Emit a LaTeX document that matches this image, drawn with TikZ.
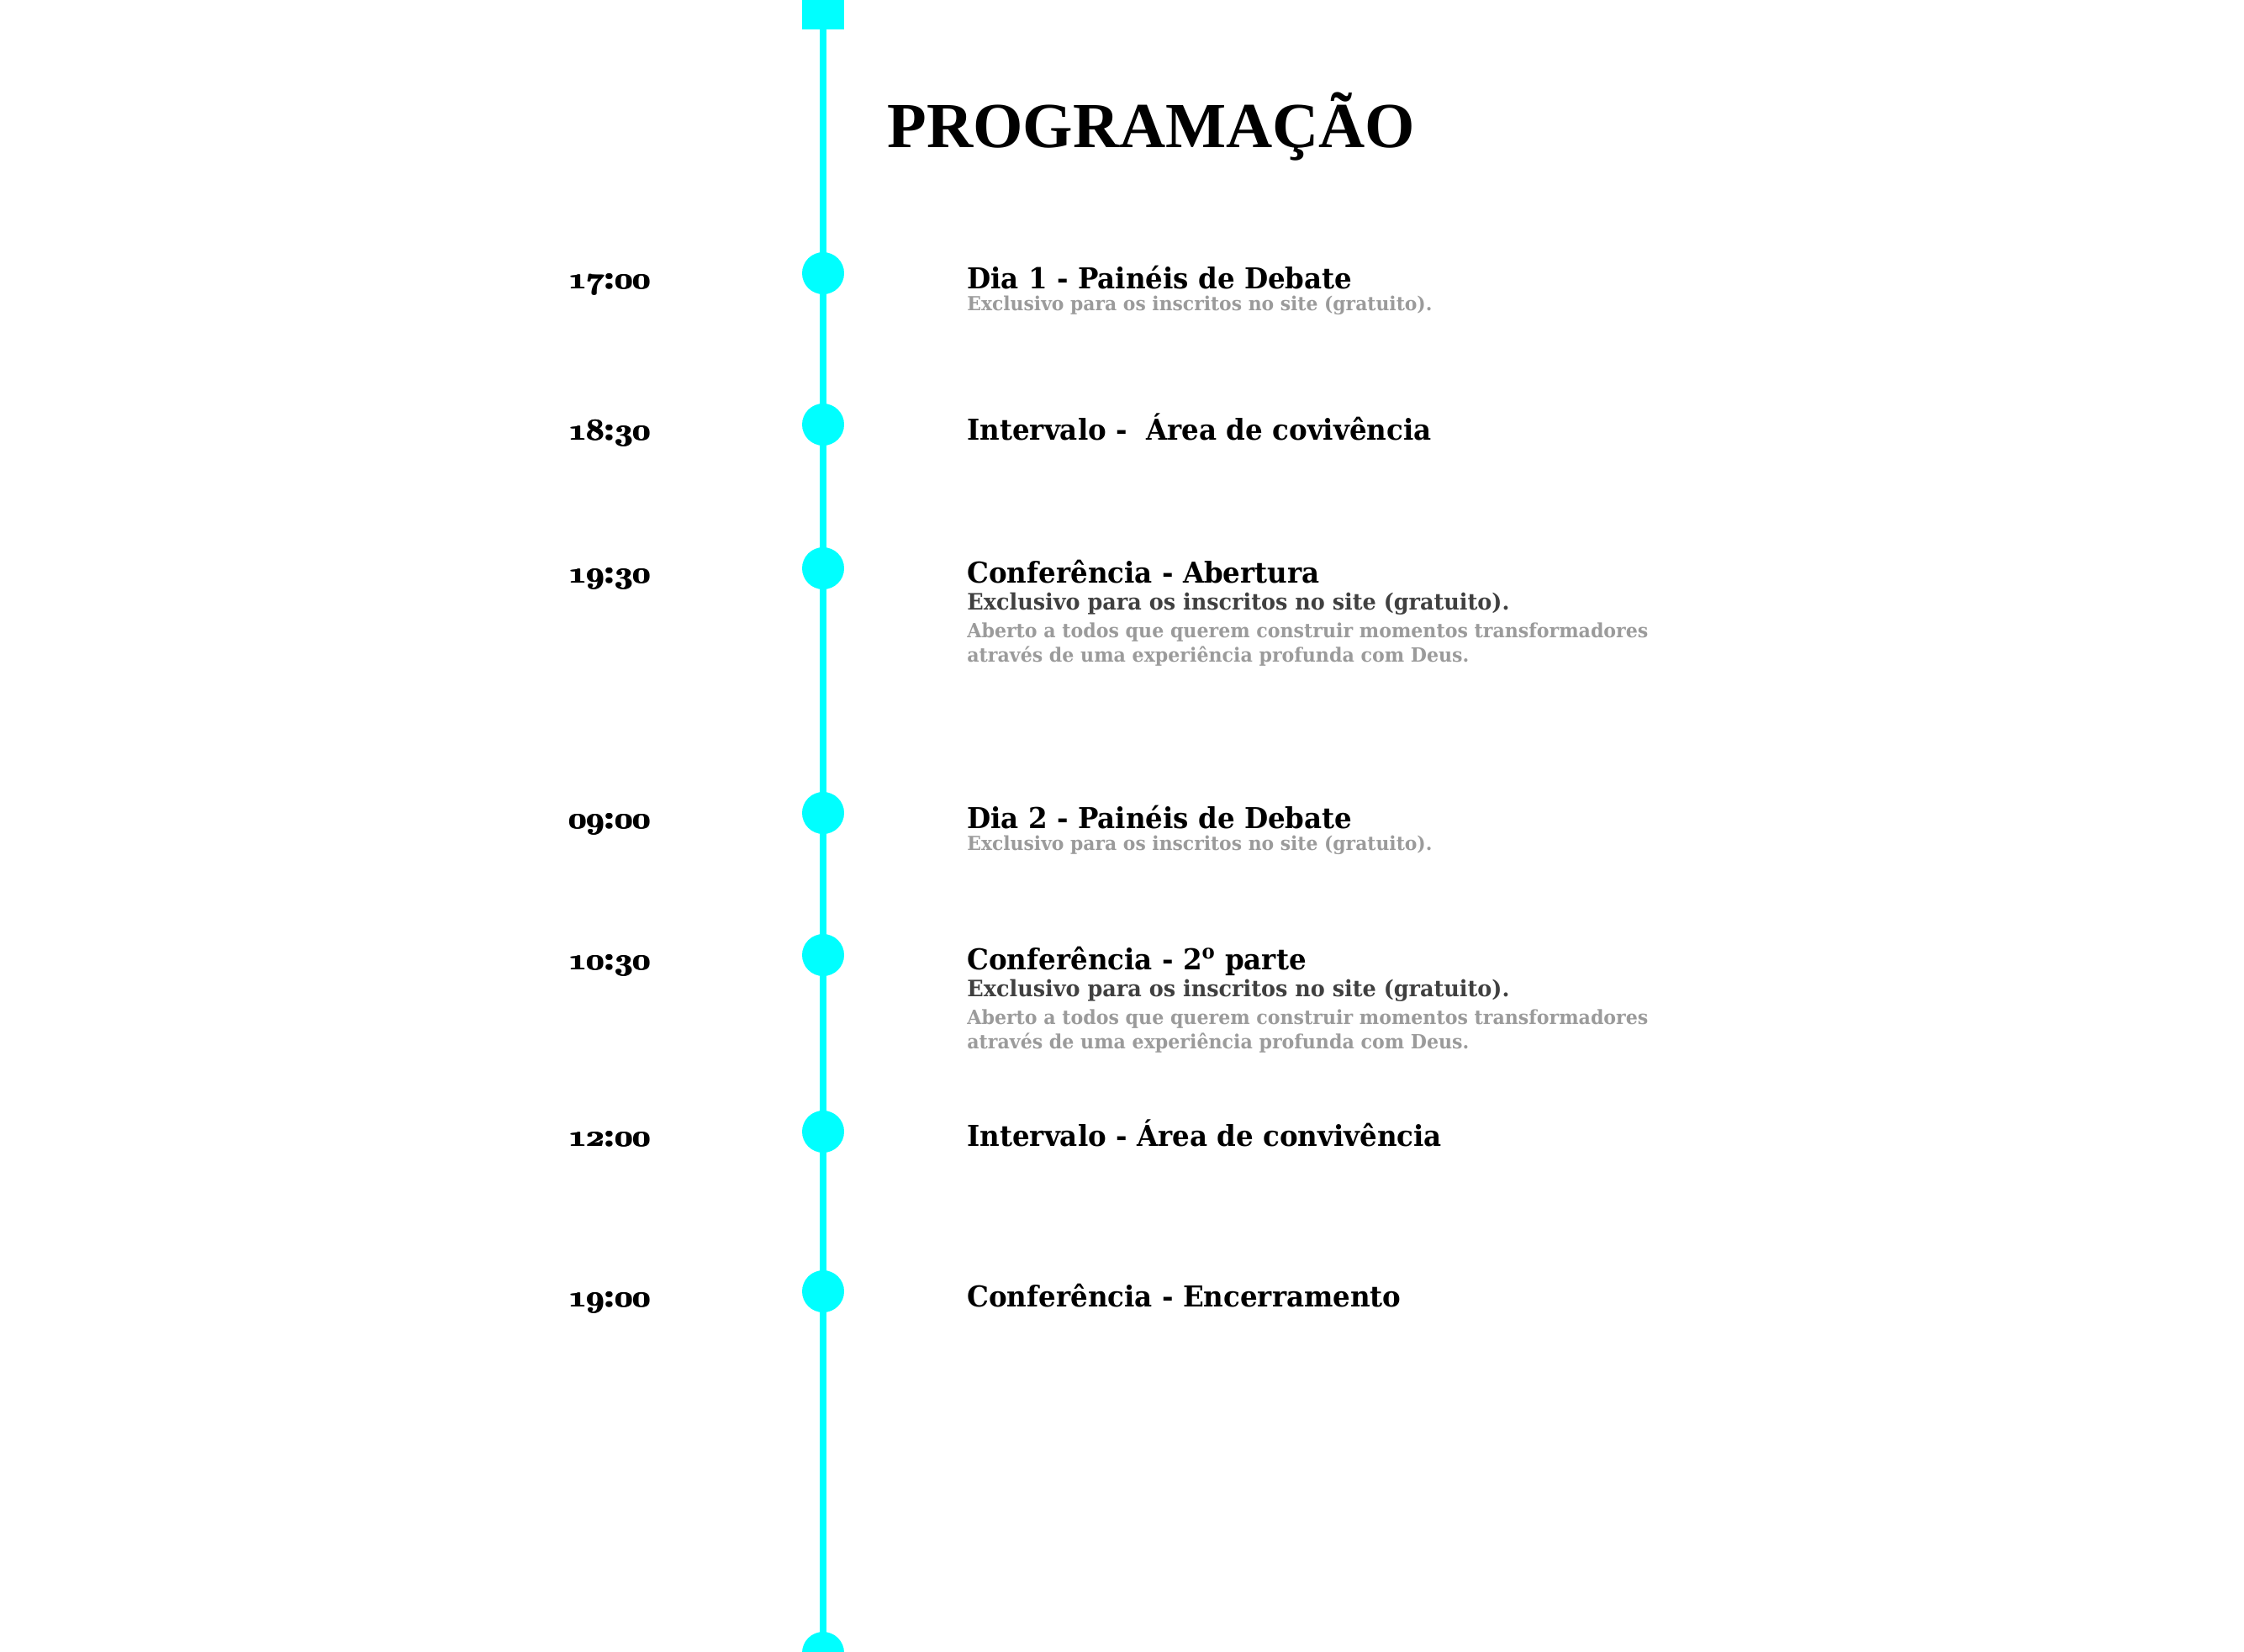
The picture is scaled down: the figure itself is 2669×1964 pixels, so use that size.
\RequirePackage{fix-cm}
\documentclass[tikz,border=0pt]{standalone}
\usepackage{fontspec}
\setmainfont{DejaVu Serif}
\newfontfamily\titlefont{Liberation Serif}
\newfontfamily\bodyfont[FakeStretch=0.95]{DejaVu Serif}
\definecolor{tlcyan}{RGB}{0,255,255}
\definecolor{darkgr}{RGB}{64,64,64}
\definecolor{lightgr}{RGB}{155,155,155}
\newlength\fitlen
\newcommand\fitfont[4]{\settowidth\fitlen{\fontsize{10pt}{12pt}\selectfont #2#4}\pgfmathsetmacro#1{10*(#3*0.5)/\fitlen}}
\newcommand\osn[1]{{\usefont{OML}{cmm}{b}{it}#1}}
\newcommand\fatten[1]{\makebox[0pt][l]{#1}\hspace{0.5pt}\makebox[0pt][l]{#1}\hspace{0.5pt}#1}
\newcommand\tlabel[2]{\fatten{\osn{#1}:\osn{#2}}}
\AtBeginDocument{%
\fitfont\tts{\titlefont\bfseries}{628}{PROGRAMAÇÃO}%
\fitfont\ts{\bodyfont\bfseries}{97}{\osn{17}:\osn{00}}%
\fitfont\hs{\bodyfont\bfseries}{458}{Dia 1 - Painéis de Debate}%
\fitfont\ds{\bodyfont\bfseries}{645}{Exclusivo para os inscritos no site (gratuito).}%
\fitfont\gs{\bodyfont\bfseries}{553}{Exclusivo para os inscritos no site (gratuito).}%
\fitfont\ls{\bodyfont\bfseries}{810}{Aberto a todos que querem construir momentos transformadores}%
}
\tikzset{
  dot/.style={circle, fill=tlcyan, inner sep=0pt, minimum size=25pt},
  topsq/.style={rectangle, fill=tlcyan, inner sep=0pt, minimum size=25pt},
  spine/.style={draw=tlcyan, line width=3.75pt},
  txt/.style={anchor=base west, inner sep=0pt},
  titletxt/.style={txt, font={\fontsize{\tts pt}{\tts pt}\titlefont\bfseries}},
  timelbl/.style={txt, font={\fontsize{\ts pt}{\ts pt}\bodyfont\bfseries}},
  headtxt/.style={txt, font={\fontsize{\hs pt}{\hs pt}\bodyfont\bfseries}},
  darksub/.style={txt, text=darkgr, font={\fontsize{\ds pt}{\ds pt}\bodyfont\bfseries}},
  graysub/.style={txt, text=lightgr, font={\fontsize{\gs pt}{\gs pt}\bodyfont\bfseries}},
  grayline/.style={txt, text=lightgr, font={\fontsize{\ls pt}{\ls pt}\bodyfont\bfseries}},
}
\begin{document}
\begin{tikzpicture}[x=0.5pt, y=-0.5pt]
\useasboundingbox[fill=white] (0,0) rectangle (2669,1964);
% timeline
\node[topsq] (top) at (979,10) {};
\node[dot] (d1) at (979,325) {};
\node[dot] (d2) at (979,505) {};
\node[dot] (d3) at (979,676) {};
\node[dot] (d4) at (979,967) {};
\node[dot] (d5) at (979,1136) {};
\node[dot] (d6) at (979,1346) {};
\node[dot] (d7) at (979,1536) {};
\node[dot] (dend) at (979,1966) {};
\draw[spine] (top.center) -- (dend.center);
% title
\node[titletxt] (title) at (1055,175) {PROGRAMAÇÃO};
% times
\node[timelbl] (t1) at (675,343) {\tlabel{17}{00}};
\node[timelbl] (t2) at (675,523) {\tlabel{18}{30}};
\node[timelbl] (t3) at (675,693) {\tlabel{19}{30}};
\node[timelbl] (t4) at (675,985) {\tlabel{09}{00}};
\node[timelbl] (t5) at (675,1153) {\tlabel{10}{30}};
\node[timelbl] (t6) at (675,1363) {\tlabel{12}{00}};
\node[timelbl] (t7) at (675,1554) {\tlabel{19}{00}};
% item 1
\node[headtxt] (h1) at (1150,343) {Dia 1 - Painéis de Debate};
\node[graysub] (s1) at (1150,369) {Exclusivo para os inscritos no site (gratuito).};
% item 2
\node[headtxt] (h2) at (1150,523) {Intervalo -\ \ Área de covivência};
% item 3
\node[headtxt] (h3) at (1150,693) {Conferência - Abertura};
\node[darksub] (s3) at (1150,725) {Exclusivo para os inscritos no site (gratuito).};
\node[grayline] (g3a) at (1150,758) {Aberto a todos que querem construir momentos transformadores};
\node[grayline] (g3b) at (1150,787) {através de uma experiência profunda com Deus.};
% item 4
\node[headtxt] (h4) at (1150,985) {Dia 2 - Painéis de Debate};
\node[graysub] (s4) at (1150,1011) {Exclusivo para os inscritos no site (gratuito).};
% item 5
\node[headtxt] (h5) at (1150,1153) {Conferência - 2\textsuperscript{o} parte};
\node[darksub] (s5) at (1150,1185) {Exclusivo para os inscritos no site (gratuito).};
\node[grayline] (g5a) at (1150,1218) {Aberto a todos que querem construir momentos transformadores};
\node[grayline] (g5b) at (1150,1247) {através de uma experiência profunda com Deus.};
% item 6
\node[headtxt] (h6) at (1150,1363) {Intervalo - Área de convivência};
% item 7
\node[headtxt] (h7) at (1150,1554) {Conferência - Encerramento};
\end{tikzpicture}
\end{document}
